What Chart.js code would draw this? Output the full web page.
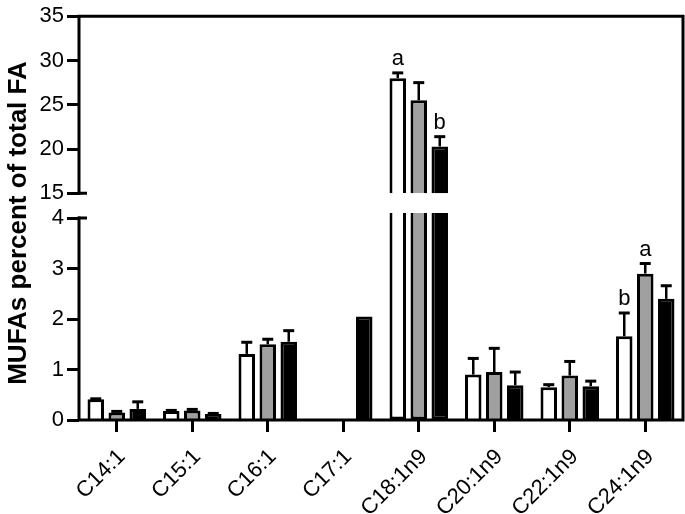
<!DOCTYPE html>
<html>
<head>
<meta charset="utf-8">
<script src="https://cdn.jsdelivr.net/npm/chart.js@4.4.1/dist/chart.umd.min.js"></script>
<style>
  html, body { margin: 0; padding: 0; background: #fff; }
</style>
</head>
<body>
<canvas id="chart" width="685" height="514"></canvas>
<script>
const categories = ['C14:1', 'C15:1', 'C16:1', 'C17:1', 'C18:1n9', 'C20:1n9', 'C22:1n9', 'C24:1n9'];

const whiteMean = [0.41, 0.18, 1.31, null, 28.0, 0.90, 0.65, 1.66];
const whiteErr  = [0.01, 0.01, 0.23, null, 0.6, 0.32, 0.05, 0.46];
const grayMean  = [0.15, 0.19, 1.50, null, 25.5, 0.95, 0.88, 2.90];
const grayErr   = [0.02, 0.02, 0.10, null, 2.0, 0.47, 0.28, 0.20];
const blackMean = [0.22, 0.12, 1.55, 2.05, 20.3, 0.69, 0.67, 2.40];
const blackErr  = [0.14, 0.01, 0.22, 0, 1.1, 0.26, 0.10, 0.26];

const yLowTicks = [0, 1, 2, 3, 4];
const yHighTicks = [15, 20, 25, 30, 35];

// significance letters: category index, series index, text
const letterCat = [4, 4, 7, 7];
const letterSeries = [0, 2, 0, 1];
const letterText = ['a', 'b', 'b', 'a'];

const breakLow = 4.1;   // where the lower part of a tall bar stops
const lowMax = 4.255;
const highMin = 13.66;
const FONT = 'Arial, "Liberation Sans", Helvetica, sans-serif';

const series = [
  { name: 'white', fill: '#ffffff', means: whiteMean, errs: whiteErr },
  { name: 'gray', fill: '#a0a0a0', means: grayMean, errs: grayErr },
  { name: 'black', fill: '#000000', means: blackMean, errs: blackErr }
];

const datasets = [];
series.forEach(s => {
  datasets.push({
    part: 'low', yAxisID: 'y', stack: s.name,
    data: s.means.map(v => v == null ? null : Math.min(v, breakLow)),
    means: s.means, errs: s.errs,
    backgroundColor: s.fill, borderColor: '#000', borderWidth: 3,
    borderSkipped: c => s.means[c.dataIndex] > breakLow ? 'top' : 'bottom',
    categoryPercentage: 0.834, barPercentage: 0.786
  });
});
series.forEach(s => {
  datasets.push({
    part: 'high', yAxisID: 'y2', stack: s.name,
    data: s.means.map(v => v != null && v > breakLow ? [yHighTicks[0], v] : null),
    means: s.means, errs: s.errs,
    backgroundColor: s.fill, borderColor: '#000', borderWidth: 3,
    borderSkipped: 'bottom',
    categoryPercentage: 0.834, barPercentage: 0.786
  });
});

function topScale(chart, ds) {
  return chart.scales[ds.yAxisID];
}

const errorBars = {
  id: 'errorBars',
  afterDatasetsDraw(chart) {
    const ctx = chart.ctx;
    ctx.save();
    ctx.strokeStyle = '#000';
    chart.data.datasets.forEach((ds, di) => {
      const meta = chart.getDatasetMeta(di);
      const scale = topScale(chart, ds);
      meta.data.forEach((bar, i) => {
        const m = ds.means[i], e = ds.errs[i];
        if (ds.data[i] == null || m == null || !e) return;
        if (ds.part === 'low' && m > breakLow) return;
        const y0 = scale.getPixelForValue(m);
        const y1 = scale.getPixelForValue(m + e);
        ctx.lineWidth = 2.5;
        ctx.beginPath();
        ctx.moveTo(bar.x, y0);
        ctx.lineTo(bar.x, y1);
        ctx.stroke();
        ctx.lineWidth = 3;
        ctx.beginPath();
        ctx.moveTo(bar.x - 5.5, y1);
        ctx.lineTo(bar.x + 5.5, y1);
        ctx.stroke();
      });
    });
    // letters
    ctx.fillStyle = '#000';
    ctx.font = '22px ' + FONT;
    ctx.textAlign = 'center';
    ctx.textBaseline = 'alphabetic';
    letterCat.forEach((ci, k) => {
      const si = letterSeries[k];
      const s = series[si];
      const high = s.means[ci] > breakLow;
      const di = high ? si + 3 : si;
      const ds = chart.data.datasets[di];
      const bar = chart.getDatasetMeta(di).data[ci];
      const y = topScale(chart, ds).getPixelForValue(s.means[ci] + (s.errs[ci] || 0));
      ctx.fillText(letterText[k], bar.x, y - 8);
    });
    ctx.restore();
  }
};

const axisFrame = {
  id: 'axisFrame',
  afterDatasetsDraw(chart) {
    const ctx = chart.ctx;
    const a = chart.chartArea;
    const yl = chart.scales.y, yh = chart.scales.y2;
    ctx.save();
    ctx.strokeStyle = '#000';
    ctx.lineWidth = 3;
    ctx.lineCap = 'square';
    ctx.beginPath();
    // x axis
    ctx.moveTo(a.left, a.bottom);
    ctx.lineTo(a.right, a.bottom);
    // right and top frame
    ctx.moveTo(a.right, a.bottom);
    ctx.lineTo(a.right, a.top);
    ctx.lineTo(a.left, a.top);
    // left axis, lower part
    ctx.moveTo(a.left, a.bottom);
    ctx.lineTo(a.left, yl.getPixelForValue(yLowTicks[yLowTicks.length - 1]));
    // left axis, upper part
    ctx.moveTo(a.left, yh.getPixelForValue(yHighTicks[0]));
    ctx.lineTo(a.left, a.top);
    ctx.stroke();
    // break marks
    ctx.lineCap = 'butt';
    ctx.beginPath();
    const y4 = yl.getPixelForValue(yLowTicks[yLowTicks.length - 1]);
    const y15 = yh.getPixelForValue(yHighTicks[0]);
    ctx.moveTo(a.left - 1, y4); ctx.lineTo(a.left + 8, y4);
    ctx.moveTo(a.left - 1, y15); ctx.lineTo(a.left + 8, y15);
    ctx.stroke();
    // axis title
    ctx.fillStyle = '#000';
    ctx.font = 'bold 26px ' + FONT;
    ctx.translate(26, 223);
    ctx.rotate(-Math.PI / 2);
    ctx.textAlign = 'center';
    ctx.textBaseline = 'alphabetic';
    ctx.fillText('MUFAs percent of total FA', 0, 0);
    ctx.restore();
  }
};

const tickFont = { family: FONT, size: 22 };
const yCommon = {
  type: 'linear',
  position: 'left',
  stack: 'yaxes',
  stacked: false,
  border: { display: false },
  grid: { drawOnChartArea: false, drawTicks: true, tickLength: 12, tickWidth: 3, tickColor: '#000' },
  ticks: { color: '#000', font: tickFont, padding: 3, autoSkip: false },
  afterFit: s => { s.width = 79; }
};

new Chart(document.getElementById('chart'), {
  type: 'bar',
  data: { labels: categories, datasets },
  options: {
    responsive: false,
    animation: false,
    layout: { padding: { top: 12, right: 2, left: 0, bottom: 0 } },
    plugins: { legend: { display: false }, tooltip: { enabled: false } },
    scales: {
      x: {
        grid: { offset: false, drawOnChartArea: false, drawTicks: true, tickLength: 12, tickWidth: 3, tickColor: '#000' },
        border: { display: false },
        ticks: { color: '#000', font: { family: FONT, size: 22 }, minRotation: 45, maxRotation: 45, autoSkip: false, padding: 12, labelOffset: 5 },
        afterFit: s => { s.height = 94; }
      },
      y: Object.assign({}, yCommon, {
        min: 0, max: lowMax, stackWeight: 217,
        afterBuildTicks: s => { s.ticks = yLowTicks.map(v => ({ value: v })); }
      }),
      y2: Object.assign({}, yCommon, {
        min: highMin, max: 35, stackWeight: 191,
        afterBuildTicks: s => { s.ticks = yHighTicks.map(v => ({ value: v })); }
      })
    }
  },
  plugins: [errorBars, axisFrame]
});
</script>
</body>
</html>
